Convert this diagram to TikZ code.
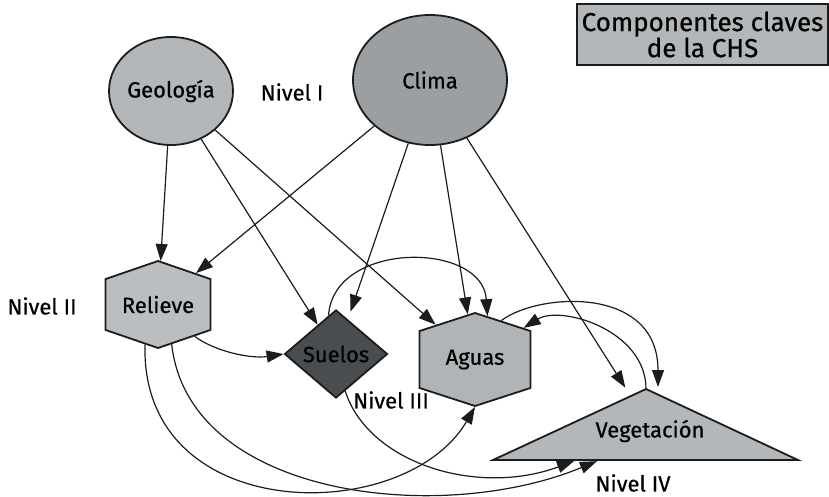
\documentclass[tikz,border=0pt]{standalone}
\usepackage{fontspec}
\setmainfont{Fira Sans}[UprightFeatures={FakeBold=0.6}]
\definecolor{geogray}{RGB}{180,183,185}
\definecolor{climagray}{RGB}{156,159,162}
\definecolor{relgray}{RGB}{187,190,192}
\definecolor{suedark}{RGB}{74,77,80}
\definecolor{agugray}{RGB}{177,180,182}
\definecolor{linkblack}{RGB}{28,28,28}
\usetikzlibrary{shapes, arrows.meta, calc}

\begin{document}
\begin{tikzpicture}[x=1pt, y=-1pt,
  comp/.style={draw=linkblack, line width=1.8pt, inner sep=0pt, font=\fontsize{22}{24}\selectfont},
  hexa/.style={comp, signal, signal to=north and south, align=center},
  lvl/.style={font=\fontsize{22}{24}\selectfont},
  link/.style={-{Triangle[length=17pt,width=12pt]}, line width=1.2pt, draw=linkblack}
]
  \useasboundingbox (0,0) rectangle (829,496);

  % nivel I
  \node[comp, ellipse, fill=geogray, minimum width=124, minimum height=108] (geo) at (171,91) {Geología};
  \node[comp, ellipse, fill=climagray, minimum width=154, minimum height=130] (clima) at (430,80) {Clima};
  % nivel II - IV
  \node[hexa, fill=relgray, text width=105, signal pointer angle=142, minimum height=87] (rel) at (158,304.5) {Relieve};
  \node[comp, diamond, fill=suedark, minimum width=103, minimum height=88] (sue) at (336,354) {Suelos};
  \node[hexa, fill=agugray, text width=111, signal pointer angle=144, minimum height=93] (agu) at (475,359.5) {Aguas};
  % triangulo de la vegetacion
  \coordinate (vegtop) at (646,389);
  \coordinate (vegl) at (493,460);
  \coordinate (vegr) at (798,460);
  \draw[line width=1.8pt, draw=linkblack, fill=geogray, line join=miter] (vegtop) -- (vegr) -- (vegl) -- cycle;
  \node[lvl] (veg) at (650,431) {Vegetación};

  % titulo
  \node[draw=linkblack, line width=1.8pt, fill=geogray, minimum width=251, minimum height=61,
        align=center, font=\fontsize{26}{21}\selectfont] (title) at (702.5,34.5) {Componentes claves\\de la CHS};

  \node[lvl] (n1) at (292,92) {Nivel I};
  \node[lvl] (n2) at (42,306) {Nivel II};
  \node[lvl] (n3) at (391,400) {Nivel III};
  \node[lvl] (n4) at (633,483) {Nivel IV};

  % rectas
  \draw[link] (geo) -- (rel);
  \draw[link] (geo) -- (sue);
  \draw[link] (geo) -- (agu);
  \draw[link] (clima) -- (rel);
  \draw[link, shorten >=8pt] (clima) -- (sue);
  \draw[link] (clima) -- (agu);
  \draw[link, shorten >=10pt] (clima) -- ($(vegtop)!0.1!(vegl)$);

  % curvas
  \draw[link] (rel.319) .. controls +(20,15) and +(-33,5) .. (sue.west);
  \draw[link] (sue.101) .. controls +(5,-75) and +(-5,-75) .. (agu.74);
  \draw[link] (agu.56) .. controls +(37,-28) and +(0,-102) .. ($(vegtop)+(12,-2)$);
  \draw[link] (vegtop) .. controls +(0,-59) and +(37,-23) .. (agu.33);
  \draw[link] (rel.252) .. controls +(-5,182) and +(-70,120) .. (agu.south);
  \draw[link, shorten >=3pt] (rel.289) .. controls +(17,153) and +(-160,66) .. ($(vegl)!0.35!(vegr)$);
  \draw[link, shorten >=3pt] (sue.284) .. controls +(23,72) and +(-100,37) .. ($(vegl)!0.275!(vegr)$);
\end{tikzpicture}
\end{document}
